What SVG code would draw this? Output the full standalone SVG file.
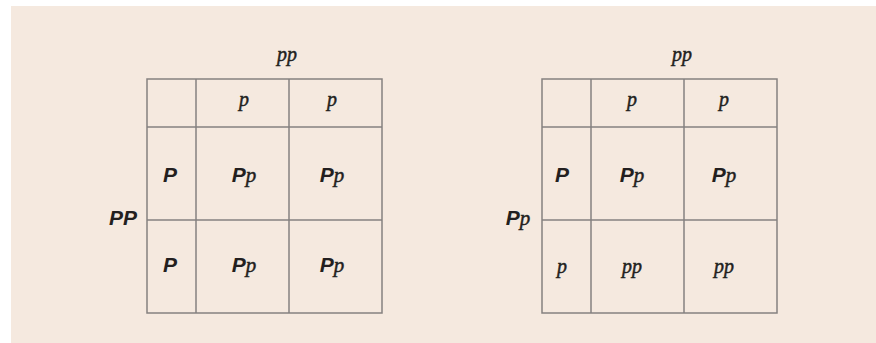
<svg xmlns="http://www.w3.org/2000/svg" width="876" height="343" viewBox="0 0 876 343">
<style>
.grid{fill:none;stroke:#858180;stroke-width:1.5}
.s{font-family:"Liberation Sans",Arial,sans-serif;font-weight:bold;font-style:italic;font-size:21px;fill:#231f20}
.r{font-family:"Liberation Serif","Times New Roman",serif;font-style:italic;font-size:20px;fill:#231f20;stroke:#231f20;stroke-width:0.45}
.rl{font-family:"Liberation Serif","Times New Roman",serif;font-style:italic;font-weight:normal;font-size:21px;stroke:#231f20;stroke-width:0.45}
</style>
<rect x="0" y="0" width="876" height="343" fill="#ffffff"/>
<rect x="11" y="6" width="865" height="337" fill="#f5e9df"/>
<g id="square1">
<rect class="grid" x="147" y="79" width="235" height="234"/>
<line class="grid" x1="196" y1="79" x2="196" y2="313"/>
<line class="grid" x1="289" y1="79" x2="289" y2="313"/>
<line class="grid" x1="147" y1="127" x2="382" y2="127"/>
<line class="grid" x1="147" y1="220" x2="382" y2="220"/>
<text class="r" x="287" y="61" text-anchor="middle">pp</text>
<text class="r" x="244" y="106" text-anchor="middle">p</text>
<text class="r" x="332" y="106" text-anchor="middle">p</text>
<text class="s" x="123" y="225" text-anchor="middle" font-size="22">PP</text>
<text class="s" x="170" y="182" text-anchor="middle">P</text>
<text class="s" x="244" y="182" text-anchor="middle">P<tspan class="rl">p</tspan></text>
<text class="s" x="332" y="182" text-anchor="middle">P<tspan class="rl">p</tspan></text>
<text class="s" x="170" y="272" text-anchor="middle">P</text>
<text class="s" x="244" y="272" text-anchor="middle">P<tspan class="rl">p</tspan></text>
<text class="s" x="332" y="272" text-anchor="middle">P<tspan class="rl">p</tspan></text>
</g>
<g id="square2">
<rect class="grid" x="542" y="79" width="235" height="234"/>
<line class="grid" x1="591" y1="79" x2="591" y2="313"/>
<line class="grid" x1="684" y1="79" x2="684" y2="313"/>
<line class="grid" x1="542" y1="127" x2="777" y2="127"/>
<line class="grid" x1="542" y1="220" x2="777" y2="220"/>
<text class="r" x="682" y="61" text-anchor="middle">pp</text>
<text class="r" x="632" y="106" text-anchor="middle">p</text>
<text class="r" x="724" y="106" text-anchor="middle">p</text>
<text class="s" x="518" y="225" text-anchor="middle" font-size="22">P<tspan class="rl">p</tspan></text>
<text class="s" x="562" y="182" text-anchor="middle">P</text>
<text class="s" x="632" y="182" text-anchor="middle">P<tspan class="rl">p</tspan></text>
<text class="s" x="724" y="182" text-anchor="middle">P<tspan class="rl">p</tspan></text>
<text class="r" x="562" y="273" text-anchor="middle">p</text>
<text class="r" x="632" y="273" text-anchor="middle">pp</text>
<text class="r" x="724" y="273" text-anchor="middle">pp</text>
</g>
</svg>
